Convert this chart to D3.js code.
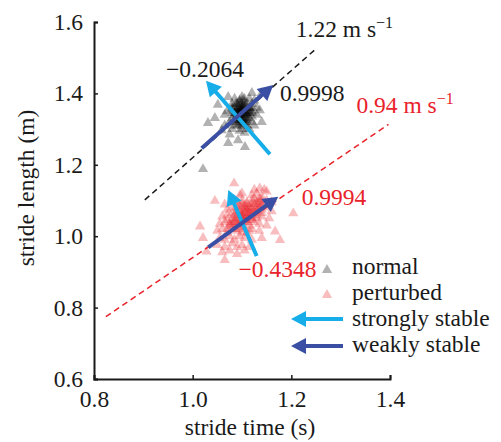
<!DOCTYPE html>
<html>
<head>
<meta charset="utf-8">
<script src="https://cdn.jsdelivr.net/npm/d3@7"></script>
<style>
  body { margin: 0; background: #fff; }
  text { font-family: "Liberation Serif", "Times New Roman", serif; }
</style>
</head>
<body>
<script>
// stride time (s), stride length (m)
var normalPts = [
  [1.021,1.188],[1.031,1.317],[1.051,1.368],[1.072,1.390],[1.120,1.401],[1.140,1.401],
  [1.136,1.353],[1.140,1.320],[1.106,1.250],[1.072,1.261],[1.092,1.269],[1.059,1.297],
  [1.045,1.331],
  [1.08,1.33],[1.09,1.34],[1.10,1.35],[1.11,1.33],[1.10,1.32],[1.09,1.36],[1.08,1.37],
  [1.11,1.37],[1.12,1.35],[1.10,1.38],[1.09,1.31],[1.10,1.30],[1.11,1.31],[1.12,1.32],
  [1.07,1.35],[1.085,1.345],[1.095,1.325],[1.105,1.34],[1.115,1.36],[1.10,1.36],
  [1.09,1.35],[1.11,1.35],[1.10,1.335],[1.095,1.355],[1.105,1.315],[1.12,1.37],
  [1.13,1.34],[1.075,1.32],[1.085,1.385],[1.10,1.39],[1.115,1.385],[1.125,1.38],
  [1.065,1.34],[1.08,1.30],[1.095,1.295],[1.115,1.30],[1.125,1.31],[1.105,1.365],
  [1.09,1.325],[1.10,1.345],[1.08,1.355],[1.12,1.335],[1.085,1.31],[1.095,1.375],
  [1.11,1.32],[1.105,1.29],[1.075,1.285],[1.13,1.36],[1.065,1.31],[1.115,1.345],
  [1.085,1.34],[1.09,1.345],[1.095,1.35],[1.10,1.355],[1.105,1.35],[1.11,1.345],
  [1.09,1.33],[1.095,1.34],[1.10,1.33],[1.105,1.325],[1.11,1.34],[1.115,1.355],
  [1.095,1.365],[1.10,1.37],[1.105,1.375],[1.09,1.37],[1.085,1.36],[1.08,1.345],
  [1.09,1.32],[1.10,1.31],[1.11,1.325],[1.12,1.345],[1.115,1.33],[1.105,1.36],
  [1.095,1.315],[1.085,1.325],[1.10,1.34],[1.10,1.36],[1.09,1.355],[1.11,1.36],
  [1.095,1.38],[1.105,1.385],[1.08,1.36],[1.12,1.36],[1.10,1.325],[1.092,1.338],
  [1.108,1.342],[1.098,1.352],[1.102,1.318],[1.088,1.372]
];
var perturbedPts = [
  [1.084,1.148],[1.045,1.099],[1.065,1.089],[1.015,1.027],[1.204,1.064],[1.177,0.989],
  [1.028,0.957],[1.065,0.933],[1.136,1.134],[1.096,1.115],[1.021,0.995],[1.167,1.013],
  [1.10,1.12],[1.12,1.115],[1.13,1.12],[1.14,1.11],[1.15,1.125],[1.125,1.13],[1.145,1.13],
  [1.08,1.10],[1.09,1.095],[1.10,1.10],[1.11,1.09],[1.12,1.10],[1.13,1.095],[1.14,1.09],
  [1.15,1.10],[1.16,1.095],[1.135,1.105],
  [1.07,1.075],[1.08,1.08],[1.09,1.07],[1.10,1.08],[1.11,1.075],[1.12,1.08],[1.13,1.07],
  [1.14,1.075],[1.15,1.08],[1.16,1.07],
  [1.06,1.055],[1.07,1.06],[1.08,1.05],[1.09,1.06],[1.10,1.055],[1.11,1.06],[1.12,1.05],
  [1.13,1.06],[1.14,1.055],[1.155,1.05],
  [1.055,1.035],[1.065,1.04],[1.075,1.03],[1.085,1.04],[1.095,1.035],[1.105,1.04],
  [1.115,1.03],[1.125,1.04],[1.135,1.035],[1.15,1.03],
  [1.05,1.015],[1.06,1.02],[1.07,1.01],[1.08,1.02],[1.09,1.015],[1.10,1.02],[1.11,1.01],
  [1.12,1.02],[1.135,1.015],
  [1.055,0.995],[1.065,0.99],[1.075,1.0],[1.085,0.99],[1.095,1.0],[1.105,0.995],
  [1.12,0.99],[1.14,0.995],
  [1.05,0.975],[1.065,0.97],[1.08,0.98],[1.09,0.97],[1.10,0.975],[1.115,0.97],
  [1.06,0.955],[1.075,0.96],[1.09,0.95],[1.105,0.96],
  [1.10,1.05],[1.11,1.045],[1.09,1.04],[1.12,1.065],[1.10,1.065],[1.08,1.03],
  [1.13,1.085],[1.115,1.055],[1.095,1.025],[1.105,1.085],
  [1.10,1.06],[1.105,1.065],[1.11,1.07],[1.115,1.065],[1.12,1.075],[1.095,1.055],
  [1.09,1.05],[1.085,1.045],[1.10,1.045],[1.105,1.05],[1.11,1.055],[1.12,1.06],
  [1.125,1.07],[1.13,1.075],[1.135,1.08],[1.14,1.085],[1.095,1.07],[1.105,1.075],
  [1.115,1.08],[1.125,1.09],[1.135,1.095],[1.08,1.04],[1.075,1.035],[1.09,1.03],
  [1.10,1.035],[1.11,1.04],[1.12,1.045],[1.085,1.06],[1.095,1.085],[1.11,1.095],
  [1.125,1.105],[1.14,1.10],[1.07,1.045],[1.08,1.065],[1.09,1.08],[1.10,1.09],
  [1.13,1.05],[1.14,1.065],[1.085,1.02],[1.10,1.01],[1.07,1.02],[1.115,1.015],
  [1.10,1.04],[1.11,1.08],[1.12,1.09]
];

// speed lines: length = speed * time
var speeds = [1.22, 0.94];
var speedRanges = [[0.903, 1.252], [0.824, 1.397]];
var speedLabels = ['1.22', '0.94'];

// eigenvector arrows [tail, tip]
var normalStrong = [[1.1566, 1.2294], [1.0270, 1.4356]];
var normalWeak = [[1.0182, 1.2462], [1.1633, 1.4235]];
var pertStrong = [[1.1297, 0.9445], [1.0721, 1.1294]];
var pertWeak = [[1.0316, 0.9689], [1.1735, 1.1107]];

var xTicks = [0.8, 1.0, 1.2, 1.4];
var yTicks = [0.6, 0.8, 1.0, 1.2, 1.4, 1.6];
var legendLabels = ['normal', 'perturbed', 'strongly stable', 'weakly stable'];

var width = 501, height = 442;
var red = '#e8232b', lightBlue = '#17ade8', darkBlue = '#3a4fa3', ink = '#1a1a1a';
var fs = '23.5px';

var svg = d3.select('body').append('svg').attr('width', width).attr('height', height);

var x = d3.scaleLinear().domain([0.8, 1.4]).range([94, 390]);
var y = d3.scaleLinear().domain([0.6, 1.6]).range([379, 22]);

// axes
var xAxis = svg.append('g').attr('transform', 'translate(0,379)')
  .call(d3.axisBottom(x).tickValues(xTicks).tickFormat(d3.format('.1f')).tickSize(-4).tickPadding(11));
var yAxis = svg.append('g').attr('transform', 'translate(94,0)')
  .call(d3.axisLeft(y).tickValues(yTicks).tickFormat(d3.format('.1f')).tickSize(-4).tickPadding(11));
[xAxis, yAxis].forEach(function (g) {
  g.select('.domain').attr('stroke', ink).attr('stroke-width', 2);
  g.selectAll('.tick line').attr('stroke', ink).attr('stroke-width', 1.5);
  g.selectAll('.tick text').attr('fill', ink).style('font-size', fs)
    .style('font-family', '"Liberation Serif", serif');
});

svg.append('text').attr('x', 250).attr('y', 435).attr('text-anchor', 'middle')
  .style('font-size', fs).attr('fill', ink).text('stride time (s)');
svg.append('text').attr('transform', 'translate(34,188) rotate(-90)').attr('text-anchor', 'middle')
  .style('font-size', fs).attr('fill', ink).text('stride length (m)');

// points
var tri = d3.symbol().type(d3.symbolTriangle).size(46);
svg.append('g').selectAll('path').data(normalPts).enter().append('path')
  .attr('d', tri)
  .attr('transform', function (d) { return 'translate(' + x(d[0]) + ',' + y(d[1]) + ')'; })
  .attr('fill', '#000').attr('fill-opacity', 0.3);
svg.append('g').selectAll('path').data(perturbedPts).enter().append('path')
  .attr('d', tri)
  .attr('transform', function (d) { return 'translate(' + x(d[0]) + ',' + y(d[1]) + ')'; })
  .attr('fill', red).attr('fill-opacity', 0.3);

// dashed speed lines
var lineColors = [ink, red];
speeds.forEach(function (v, i) {
  var r = speedRanges[i];
  svg.append('line')
    .attr('x1', x(r[0])).attr('y1', y(v * r[0]))
    .attr('x2', x(r[1])).attr('y2', y(v * r[1]))
    .attr('stroke', lineColors[i]).attr('stroke-width', 1.5).attr('stroke-dasharray', '6,4');
});

function arrow(x1, y1, x2, y2, color) {
  var dx = x2 - x1, dy = y2 - y1, len = Math.sqrt(dx * dx + dy * dy);
  var ux = dx / len, uy = dy / len, hl = 15, hw = 8;
  var bx = x2 - ux * hl, by = y2 - uy * hl;
  svg.append('line').attr('x1', x1).attr('y1', y1).attr('x2', bx + ux * 2).attr('y2', by + uy * 2)
    .attr('stroke', color).attr('stroke-width', 4);
  svg.append('path')
    .attr('d', 'M' + x2 + ',' + y2 + 'L' + (bx - uy * hw) + ',' + (by + ux * hw) +
      'L' + (bx + uy * hw) + ',' + (by - ux * hw) + 'Z')
    .attr('fill', color);
}
[[normalStrong, lightBlue], [normalWeak, darkBlue], [pertStrong, lightBlue], [pertWeak, darkBlue]]
  .forEach(function (a) {
    var p = a[0];
    arrow(x(p[0][0]), y(p[0][1]), x(p[1][0]), y(p[1][1]), a[1]);
  });

// annotations
function label(xv, yv, txt, color, anchor) {
  return svg.append('text').attr('x', x(xv)).attr('y', y(yv)).attr('text-anchor', anchor || 'start')
    .attr('fill', color).style('font-size', fs).text(txt);
}
label(1.025, 1.446, '\u22120.2064', ink, 'middle');
label(1.177, 1.380, '0.9998', ink);
label(1.221, 1.087, '0.9994', red);
label(1.251, 0.887, '\u22120.4348', red, 'end');

var speedPos = [[1.209, 1.559], [1.332, 1.345]];
speeds.forEach(function (v, i) {
  var t = label(speedPos[i][0], speedPos[i][1], speedLabels[i] + ' m s', lineColors[i]);
  t.append('tspan').attr('dy', -9).style('font-size', '16px').text('\u22121');
});

// legend
var lg = svg.append('g');
var legRows = [274, 300, 326, 352];
lg.append('path').attr('d', tri).attr('transform', 'translate(327,' + (legRows[0] - 4) + ')')
  .attr('fill', '#000').attr('fill-opacity', 0.3);
lg.append('path').attr('d', tri).attr('transform', 'translate(327,' + (legRows[1] - 5) + ')')
  .attr('fill', red).attr('fill-opacity', 0.3);
arrow(343, legRows[2] - 7, 291, legRows[2] - 7, lightBlue);
arrow(343, legRows[3] - 6, 291, legRows[3] - 6, darkBlue);
lg.selectAll('text').data(legendLabels).enter().append('text')
  .attr('x', 352).attr('y', function (d, i) { return legRows[i]; })
  .attr('fill', ink).style('font-size', fs).text(function (d) { return d; });
</script>
</body>
</html>
